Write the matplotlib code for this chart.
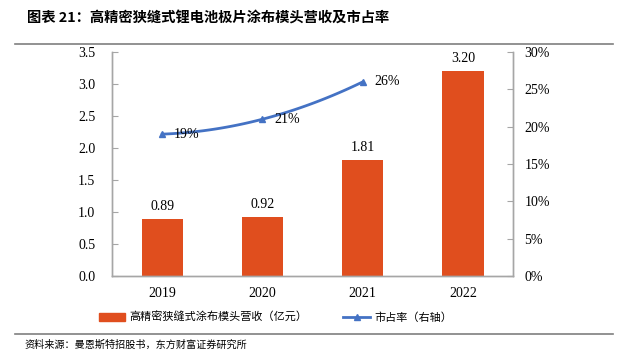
import numpy as np
import matplotlib.pyplot as plt
from matplotlib.lines import Line2D
from matplotlib.ticker import FuncFormatter

years = ['2019', '2020', '2021', '2022']
revenue = [0.89, 0.92, 1.81, 3.20]
share_years = [0, 1, 2]
share = [19, 21, 26]

cjk = ['Noto Sans CJK SC', 'DejaVu Sans']
serif = ['Liberation Serif', 'DejaVu Serif']
bar_color = '#E04E1E'
line_color = '#4472C4'

fig = plt.figure(figsize=(6.19, 3.63), dpi=100)
ax = fig.add_axes([0.181, 0.2397, 0.648, 0.617])
ax2 = ax.twinx()

x = list(range(len(years)))
ax.bar(x, revenue, width=0.41, color=bar_color, zorder=2)
for xi, v in zip(x, revenue):
    ax.text(xi, v + 0.1, '%.2f' % v, ha='center', va='bottom', fontsize=10, family=serif)

# smooth curve through the share points
xs = np.linspace(0, 2, 60)
coef = np.polyfit(share_years, share, 2)
ax2.plot(xs, np.polyval(coef, xs), color=line_color, lw=2)
ax2.plot(share_years, share, ls='none', marker='^', ms=5, color=line_color)
for xi, v in zip(share_years, share):
    ax2.text(xi + 0.12, v, '%d%%' % v, ha='left', va='center', fontsize=10, family=serif)

ax.set_xlim(-0.5, 3.5)
ax.set_ylim(0, 3.5)
ax.set_yticks([0, 0.5, 1.0, 1.5, 2.0, 2.5, 3.0, 3.5])
ax.yaxis.set_major_formatter(FuncFormatter(lambda v, p: '%.1f' % v))
ax2.set_ylim(0, 30)
ax2.set_yticks(range(0, 31, 5))
ax2.yaxis.set_major_formatter(FuncFormatter(lambda v, p: '%d%%' % v))
ax.set_xticks(x)
ax.set_xticklabels(years)

for a in (ax, ax2):
    a.spines['top'].set_visible(False)
    for s in ('left', 'right', 'bottom'):
        a.spines[s].set_color('#A6A6A6')
        a.spines[s].set_linewidth(1)
    for lab in a.get_yticklabels():
        lab.set_family(serif)
ax.tick_params(axis='y', direction='in', length=4, color='#A6A6A6', labelsize=10, pad=12)
ax2.tick_params(axis='y', direction='in', length=4, color='#A6A6A6', labelsize=10, pad=8)
ax.tick_params(axis='x', length=0, labelsize=10, pad=8)
for lab in ax.get_xticklabels():
    lab.set_family(serif)

handles = [plt.Rectangle((0, 0), 1, 1, color=bar_color),
           Line2D([0], [0], color=line_color, lw=2, marker='^', ms=4)]
fig.legend(handles, ['高精密狭缝式涂布模头营收（亿元）', '市占率（右轴）'],
           loc='center', bbox_to_anchor=(0.445, 0.125), ncol=2, frameon=False,
           prop={'family': cjk, 'size': 8}, columnspacing=3.2, handlelength=2.4,
           handletextpad=0.4)

fig.text(0.043, 0.95, '图表 21：高精密狭缝式锂电池极片涂布模头营收及市占率',
         family=cjk, fontsize=10.3, fontweight='bold', va='center')
fig.add_artist(Line2D([0.025, 0.99], [0.879, 0.879], color='#7F7F7F', lw=1.2))
fig.add_artist(Line2D([0.025, 0.99], [0.08, 0.08], color='#7F7F7F', lw=1.2))
fig.text(0.039, 0.05, '资料来源：曼恩斯特招股书，东方财富证券研究所',
         family=cjk, fontsize=7.3, va='center')

fig.savefig('out.png', dpi=100)
